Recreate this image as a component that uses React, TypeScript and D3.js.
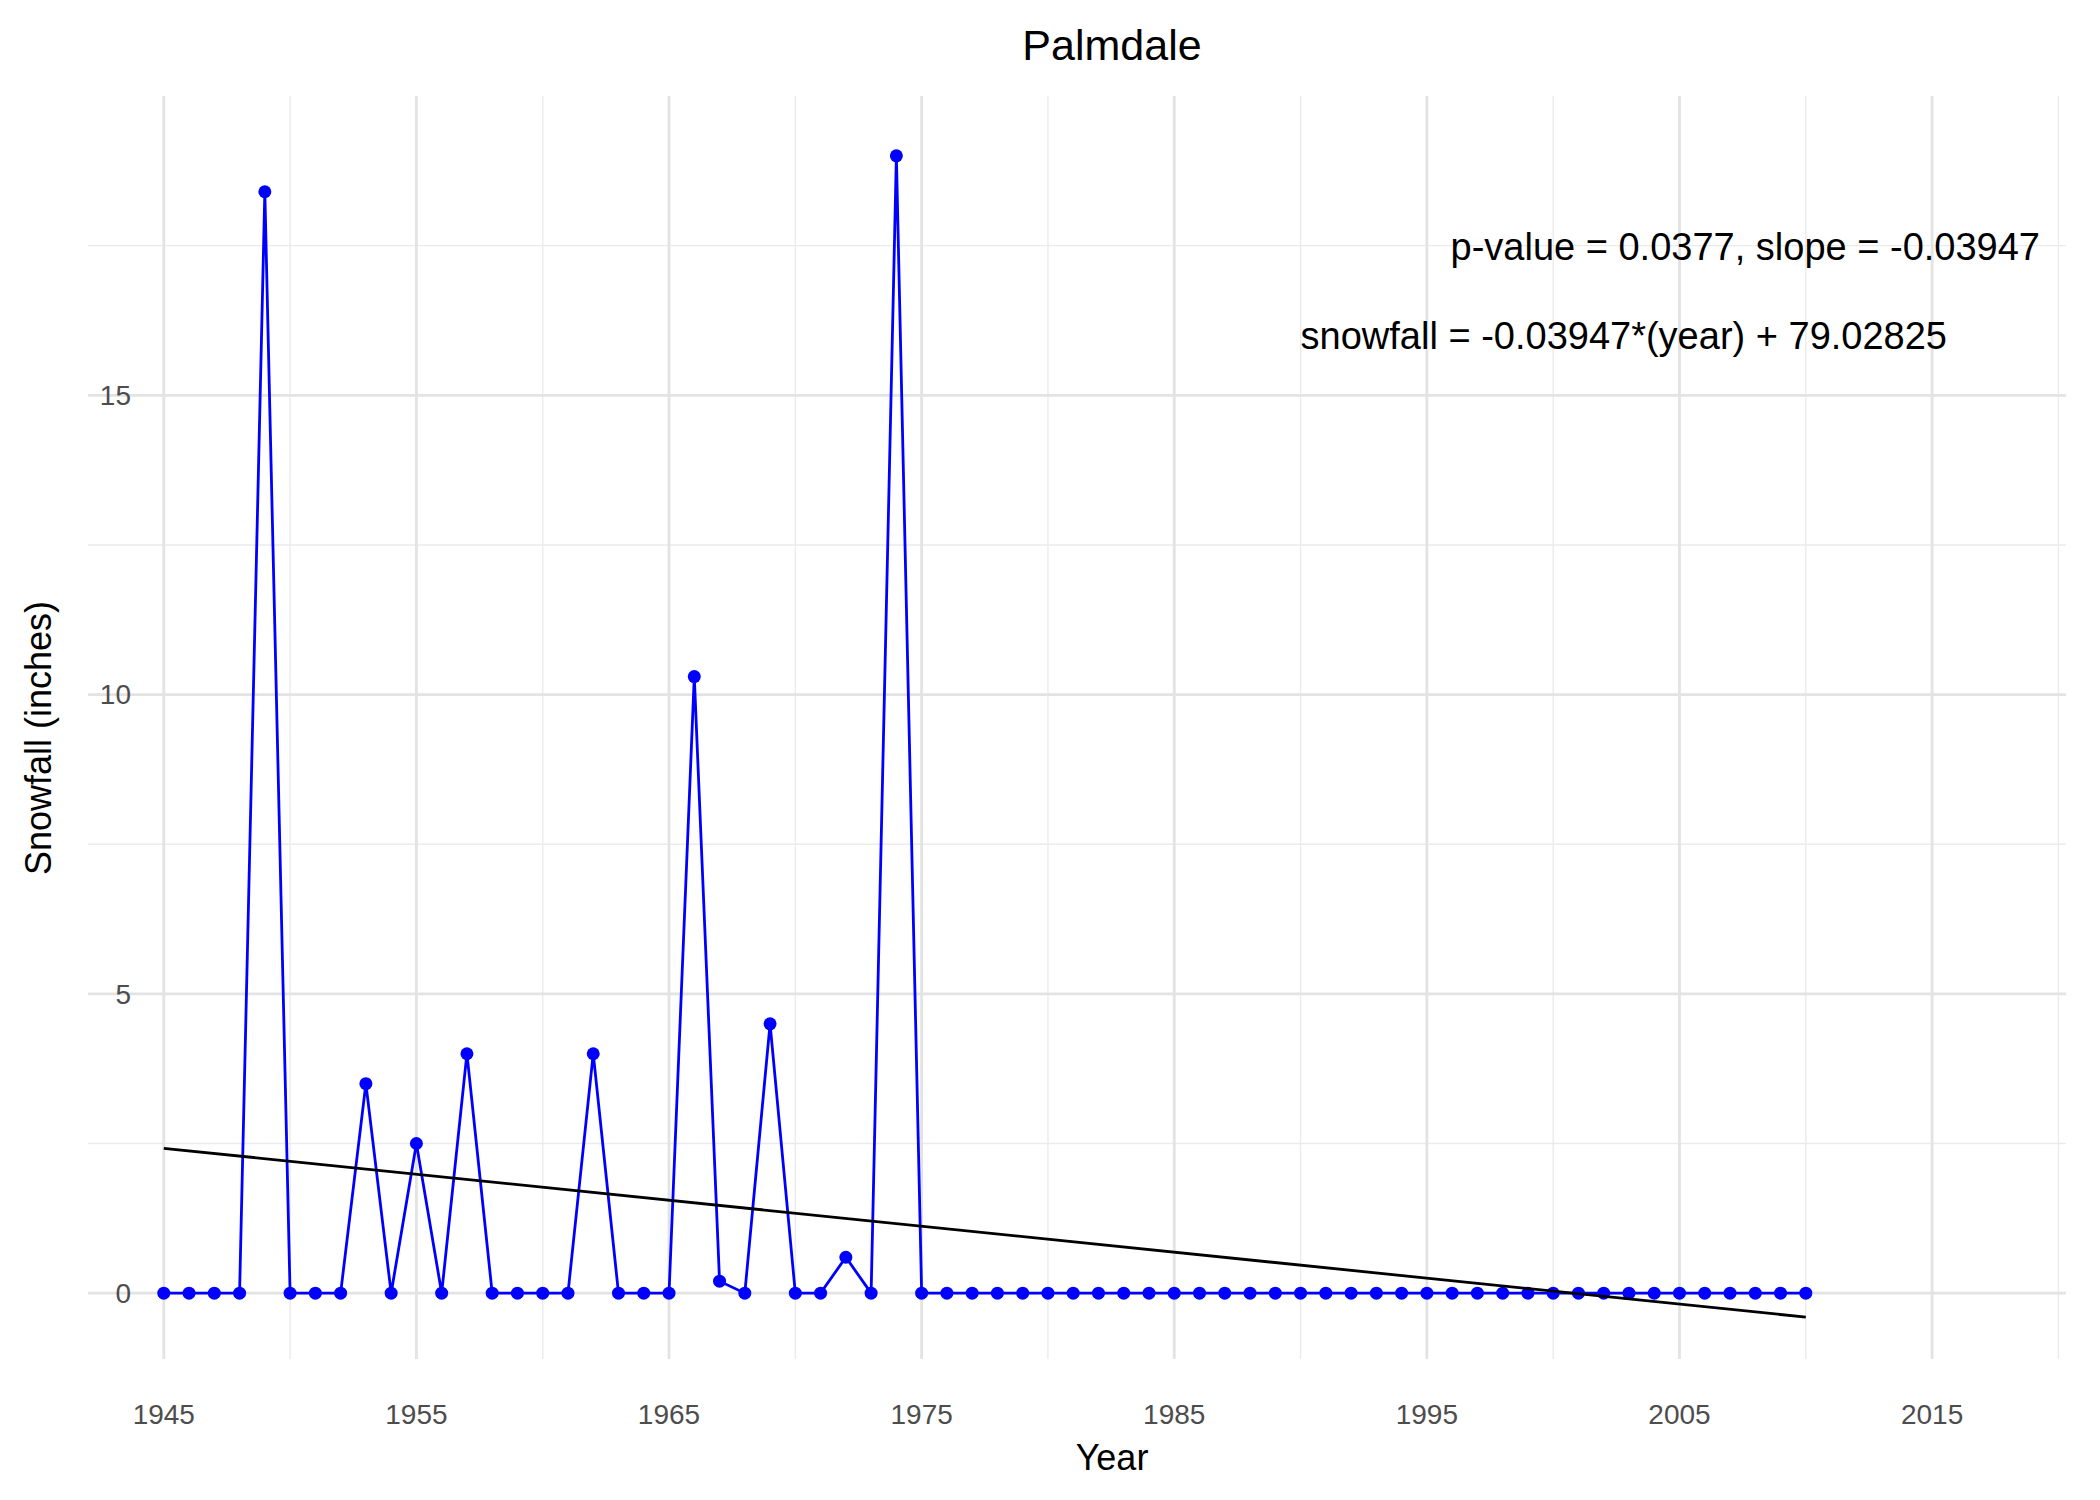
import React, { useEffect, useRef } from 'react';
import * as d3 from 'd3';

const years: number[] = d3.range(1945, 2011);
const snowfall: number[] = [
  0, 0, 0, 0, 18.4, 0, 0, 0, 3.5, 0, 2.5, 0, 4, 0, 0, 0, 0, 4, 0, 0, 0, 10.3, 0.2, 0, 4.5, 0, 0, 0.6, 0, 19, 0,
  ...new Array(35).fill(0),
];
const trendYears = [1945, 2010];
const trendValues = [2.42, -0.4];
const xMajor = [1945, 1955, 1965, 1975, 1985, 1995, 2005, 2015];
const xMinor = [1950, 1960, 1970, 1980, 1990, 2000, 2010, 2020];
const yMajor = [0, 5, 10, 15];
const yMinor = [2.5, 7.5, 12.5, 17.5];

const W = 2100;
const H = 1500;

export default function App() {
  const ref = useRef<SVGSVGElement>(null);

  useEffect(() => {
    const svg = d3.select(ref.current);
    svg.selectAll('*').remove();
    const font = 'Liberation Sans, Arial, sans-serif';

    const x = d3.scaleLinear().domain([1942, 2020.3]).range([88, 2066]);
    const y = d3.scaleLinear().domain([-1.1, 20]).range([1359, 96]);
    const [x0, x1] = x.range();
    const [y0, y1] = y.range();

    const grid = svg.append('g');
    grid.selectAll('.xm').data(xMinor).enter().append('line')
      .attr('x1', d => x(d)).attr('x2', d => x(d)).attr('y1', y0).attr('y2', y1)
      .attr('stroke', '#ebebeb').attr('stroke-width', 1.4);
    grid.selectAll('.ym').data(yMinor).enter().append('line')
      .attr('y1', d => y(d)).attr('y2', d => y(d)).attr('x1', x0).attr('x2', x1)
      .attr('stroke', '#ebebeb').attr('stroke-width', 1.4);
    grid.selectAll('.xM').data(xMajor).enter().append('line')
      .attr('x1', d => x(d)).attr('x2', d => x(d)).attr('y1', y0).attr('y2', y1)
      .attr('stroke', '#e3e3e3').attr('stroke-width', 2.8);
    grid.selectAll('.yM').data(yMajor).enter().append('line')
      .attr('y1', d => y(d)).attr('y2', d => y(d)).attr('x1', x0).attr('x2', x1)
      .attr('stroke', '#e3e3e3').attr('stroke-width', 2.8);

    const pts = years.map((yr, i) => [yr, snowfall[i]] as [number, number]);
    svg.append('path')
      .attr('d', d3.line<[number, number]>().x(d => x(d[0])).y(d => y(d[1]))(pts))
      .attr('fill', 'none').attr('stroke', '#0000ff').attr('stroke-width', 2.8);
    svg.selectAll('.pt').data(pts).enter().append('circle')
      .attr('cx', d => x(d[0])).attr('cy', d => y(d[1])).attr('r', 6.5).attr('fill', '#0000ff');

    svg.append('line')
      .attr('x1', x(trendYears[0])).attr('y1', y(trendValues[0]))
      .attr('x2', x(trendYears[1])).attr('y2', y(trendValues[1]))
      .attr('stroke', 'black').attr('stroke-width', 2.8);

    svg.selectAll('.yt').data(yMajor).enter().append('text')
      .attr('x', 131).attr('y', d => y(d)).attr('dy', '0.35em').attr('text-anchor', 'end')
      .attr('font-family', font).attr('font-size', 28).attr('fill', '#4d4d4d').text(d => d);
    svg.selectAll('.xt').data(xMajor).enter().append('text')
      .attr('x', d => x(d)).attr('y', 1424).attr('text-anchor', 'middle')
      .attr('font-family', font).attr('font-size', 28).attr('fill', '#4d4d4d').text(d => d);

    svg.append('text').attr('x', 1112).attr('y', 1470).attr('text-anchor', 'middle')
      .attr('font-family', font).attr('font-size', 36).text('Year');
    svg.append('text').attr('transform', 'translate(38,738) rotate(-90)').attr('dy', '0.35em')
      .attr('text-anchor', 'middle').attr('font-family', font).attr('font-size', 36).text('Snowfall (inches)');
    svg.append('text').attr('x', 1112).attr('y', 60).attr('text-anchor', 'middle')
      .attr('font-family', font).attr('font-size', 43).text('Palmdale');

    svg.append('text').attr('x', 2040).attr('y', 260).attr('text-anchor', 'end')
      .attr('font-family', font).attr('font-size', 38).text('p-value = 0.0377, slope = -0.03947');
    svg.append('text').attr('x', 1947).attr('y', 349).attr('text-anchor', 'end')
      .attr('font-family', font).attr('font-size', 38).text('snowfall = -0.03947*(year) + 79.02825');
  }, []);

  return (
    <svg ref={ref} width={W} height={H}
      style={{ position: 'absolute', top: 0, left: 0, background: 'white' }} />
  );
}
